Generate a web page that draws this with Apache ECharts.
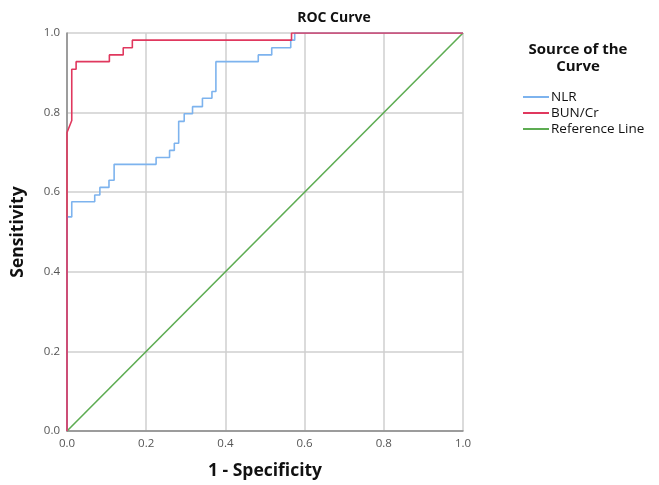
<!DOCTYPE html>
<html>
<head>
<meta charset="utf-8">
<script src="https://cdn.jsdelivr.net/npm/echarts@6/dist/echarts.min.js"></script>
<style>
  html, body { margin: 0; padding: 0; background: #fff; }
  #chart { width: 659px; height: 485px; }
</style>
</head>
<body>
<div id="chart"></div>
<script>
// [1 - specificity, sensitivity]
const nlrPoints = [
  [0, 0], [0, 0.538], [0.012, 0.538], [0.012, 0.576], [0.07, 0.576], [0.07, 0.593],
  [0.083, 0.593], [0.083, 0.612], [0.106, 0.612], [0.106, 0.63], [0.119, 0.63], [0.119, 0.67],
  [0.225, 0.67], [0.225, 0.687], [0.259, 0.687], [0.259, 0.705], [0.271, 0.705], [0.271, 0.723],
  [0.282, 0.723], [0.282, 0.778], [0.296, 0.778], [0.296, 0.797], [0.317, 0.797], [0.317, 0.815],
  [0.342, 0.815], [0.342, 0.836], [0.366, 0.836], [0.366, 0.853], [0.376, 0.853], [0.376, 0.928],
  [0.483, 0.928], [0.483, 0.945], [0.517, 0.945], [0.517, 0.963], [0.565, 0.963], [0.565, 0.982],
  [0.575, 0.982], [0.575, 1], [1, 1]
];
const bunPoints = [
  [0, 0], [0, 0.75], [0.012, 0.78], [0.012, 0.909], [0.023, 0.909], [0.023, 0.928],
  [0.107, 0.928], [0.107, 0.945], [0.142, 0.945], [0.142, 0.963], [0.165, 0.963], [0.165, 0.982],
  [0.567, 0.982], [0.567, 1], [1, 1]
];
const refPoints = [[0, 0], [1, 1]];
const seriesNames = ['NLR', 'BUN/Cr', 'Reference Line'];

const font = '"Open Sans", "DejaVu Sans", sans-serif';
const chart = echarts.init(document.getElementById('chart'));

chart.setOption({
  animation: false,
  title: [
    {
      text: 'ROC Curve',
      left: 329, top: 6, textAlign: 'center',
      textStyle: { fontFamily: font, fontWeight: 'bold', fontSize: 14, color: '#111' }
    },
    {
      text: 'Source of the\nCurve',
      left: 573, top: 36, textAlign: 'center',
      textStyle: { fontFamily: font, fontWeight: 'bold', fontSize: 15, color: '#111', lineHeight: 17 }
    }
  ],
  legend: {
    orient: 'vertical',
    left: 518, top: 85,
    itemWidth: 26, itemHeight: 2, itemGap: 2,
    icon: 'rect',
    data: seriesNames,
    textStyle: { fontFamily: font, fontSize: 13.5, lineHeight: 14, color: '#111', padding: [0, 0, 0, -3] }
  },
  grid: { left: 67, right: 196, top: 33, bottom: 53 },
  xAxis: {
    type: 'value', min: 0, max: 1, interval: 0.2,
    name: '1 - Specificity', nameLocation: 'middle', nameGap: 31,
    nameTextStyle: { fontFamily: font, fontWeight: 'bold', fontSize: 17.5, color: '#111' },
    axisLine: { lineStyle: { color: '#888', width: 1.5 } },
    axisTick: { show: false },
    axisLabel: { fontFamily: font, fontSize: 11.5, color: '#555', margin: 7,
      formatter: v => v.toFixed(1) },
    splitLine: { lineStyle: { color: '#cfcfcf', width: 1.5 } }
  },
  yAxis: {
    type: 'value', min: 0, max: 1, interval: 0.2,
    name: 'Sensitivity', nameLocation: 'middle', nameGap: 40,
    nameTextStyle: { fontFamily: font, fontWeight: 'bold', fontSize: 17.5, color: '#111' },
    axisLine: { show: true, lineStyle: { color: '#888', width: 1.5 } },
    axisTick: { show: false },
    axisLabel: { fontFamily: font, fontSize: 11.5, color: '#555', margin: 7,
      formatter: v => v.toFixed(1) },
    splitLine: { lineStyle: { color: '#cfcfcf', width: 1.5 } }
  },
  series: [
    {
      name: seriesNames[0], type: 'line', data: nlrPoints, showSymbol: false,
      color: '#7db3ee', lineStyle: { width: 1.6 }, z: 3
    },
    {
      name: seriesNames[1], type: 'line', data: bunPoints, showSymbol: false,
      color: '#e0385e', lineStyle: { width: 1.6 }, z: 4
    },
    {
      name: seriesNames[2], type: 'line', data: refPoints, showSymbol: false,
      color: '#5dac52', lineStyle: { width: 1.6 }, z: 2
    }
  ]
});
</script>
</body>
</html>
